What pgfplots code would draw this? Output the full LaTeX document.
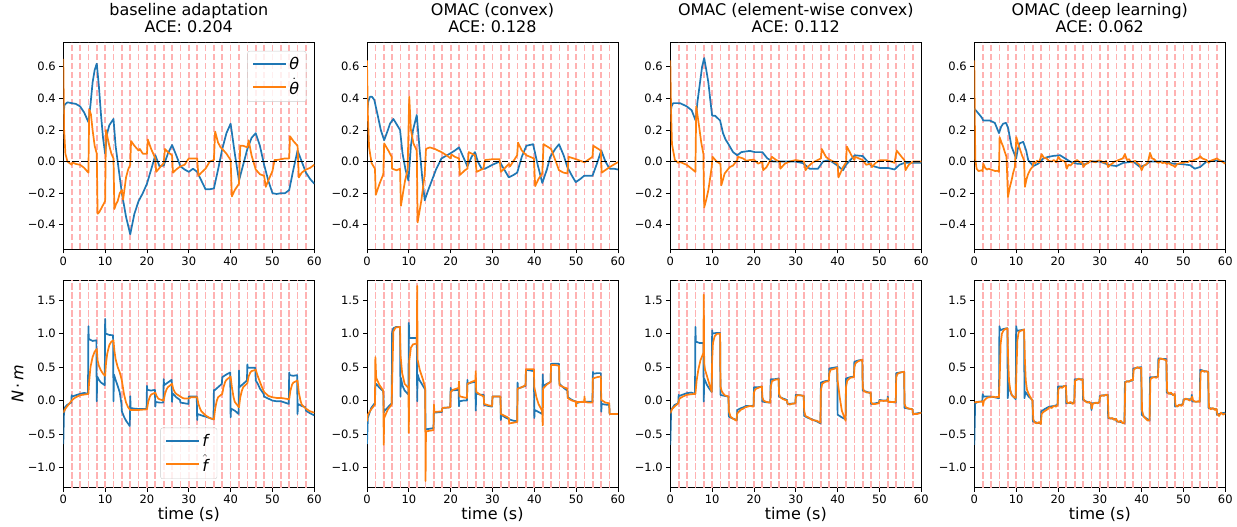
\documentclass[border=0pt]{standalone}
\usepackage{fontspec}
\setmainfont{DejaVu Sans}
\usepackage{pgfplots}
\pgfplotsset{compat=1.18}

\definecolor{mplblue}{HTML}{1F77B4}
\definecolor{mplorange}{HTML}{FF7F0E}

\pgfplotsset{
  panel/.style={
    scale only axis, width=251pt,
    xmin=0, xmax=60,
    xtick={0,10,...,60}, xticklabels={0,10,20,30,40,50,60},
    tick pos=left, tick align=outside,
    major tick length=4pt,
    tick style={black, line width=0.9pt},
    axis line style={line width=0.9pt},
    tick label style={font=\fontsize{11.5}{13}\selectfont},
    /pgf/number format/assume math mode=true,
    extra x ticks={2,4,...,58},
    extra x tick labels={},
    extra x tick style={grid=major, major tick length=0pt,
      major grid style={red!30, line width=1.7pt, dash pattern=on 6.3pt off 2.7pt}},
    every axis plot/.append style={line width=1.7pt, line join=round},
    title style={align=center, font=\fontsize{16}{17.5}\selectfont},
    xlabel style={font=\fontsize{16}{18}\selectfont, at={(axis description cs:0.5,-0.131)}, anchor=center},
    ylabel style={font=\fontsize{16}{18}\selectfont, at={(axis description cs:-0.182,0.5)}, anchor=center},
    legend style={draw=black!20, rounded corners=2pt, fill=white, fill opacity=0.8,
      text opacity=1, font=\fontsize{16}{18}\selectfont, inner xsep=5pt, inner ysep=4pt,
      row sep=3pt, cells={anchor=west}},
    legend image code/.code={\draw[#1, line width=1.7pt] (0pt,0pt) -- (33pt,0pt);},
  },
  toprow/.style={panel, height=207pt, ymin=-0.555, ymax=0.755,
    ytick={-0.4,-0.2,0,0.2,0.4,0.6}, yticklabels={−0.4,−0.2,0.0,0.2,0.4,0.6}},
  botrow/.style={panel, height=207.7pt, ymin=-1.3, ymax=1.8,
    ytick={-1,-0.5,0,0.5,1,1.5}, yticklabels={−1.0,−0.5,0.0,0.5,1.0,1.5},
    xlabel={time (s)}},
  zeroline/.style={black, line width=1.7pt, dash pattern=on 6.3pt off 2.7pt, forget plot},
}

\begin{document}
\begin{tikzpicture}
\useasboundingbox (0pt,0pt) rectangle (1237pt,527pt);

% ---------------- top row ----------------
\begin{axis}[toprow, at={(63.3pt,277.7pt)}, title={baseline adaptation\\ACE: 0.204},
  legend style={at={(1,1)}, anchor=north east, xshift=-8pt, yshift=-8.7pt}]
\addplot[mplblue] coordinates {
(0,0.30)(0.3,0.36)(1,0.375)(2,0.37)(3,0.365)(4,0.35)(5,0.31)(6,0.25)(6.5,0.36)(7,0.5)(7.5,0.58)(8,0.62)(8.5,0.48)(9,0.3)(9.5,0.15)(10,0.05)(10.5,0.18)(11,0.23)(12,0.27)(12.5,0.1)(13,0.0)(14,-0.2)(15,-0.35)(16,-0.46)(17,-0.33)(18,-0.25)(19,-0.2)(20,-0.14)(21,-0.05)(22,0.04)(23,-0.03)(24,-0.025)(25,0.05)(26,0.105)(27,0.04)(28,-0.03)(29,-0.05)(30,-0.065)(31,-0.045)(32,-0.065)(33,-0.12)(34,-0.175)(35,-0.175)(36,-0.17)(37,-0.05)(38,0.08)(39,0.18)(40,0.24)(41,0.05)(42,-0.12)(43,-0.02)(44,0.08)(45,0.15)(46,0.18)(47,0.1)(48,-0.02)(49,-0.12)(50,-0.2)(51,-0.205)(52,-0.2)(53,-0.2)(54,-0.18)(55,-0.05)(56,0.07)(57,0.0)(58,-0.07)(59,-0.11)(60,-0.14)};
\addlegendentry{\textit{θ}}
\addplot[mplorange] coordinates {
(0,0.65)(0.2,0.2)(0.5,0.05)(1,0.0)(1.5,-0.01)(2,-0.02)(2.2,-0.005)(3,-0.015)(4,-0.02)(5,-0.04)(6,-0.07)(6.2,0.33)(6.6,0.3)(7,0.2)(7.5,0.1)(8,0.05)(8.2,-0.33)(8.6,-0.32)(9,-0.3)(10,-0.25)(10.2,0.2)(10.6,0.15)(11,0.1)(11.5,0.05)(12,0.02)(12.2,-0.3)(12.6,-0.27)(13,-0.25)(13.5,-0.2)(14,-0.18)(14.3,-0.24)(15,-0.1)(15.5,-0.05)(16,-0.02)(16.2,0.13)(17,0.1)(18,0.07)(18.3,0.08)(19,0.05)(20,0.05)(20.2,0.14)(21,0.08)(22,0.02)(22.2,-0.065)(23,-0.04)(24,-0.01)(24.3,0.08)(25,0.06)(26,0.04)(26.2,-0.07)(27,-0.05)(28,-0.03)(29,-0.02)(30,0.02)(31,0.02)(32,0.02)(32.3,-0.09)(33,-0.07)(34,-0.045)(35,0.0)(36,0.01)(36.3,0.19)(37,0.12)(37.6,0.09)(38,0.08)(39,0.05)(40,0.01)(40.3,-0.22)(41,-0.18)(42,-0.14)(42.3,0.1)(43,0.1)(44,0.09)(44.3,0.135)(45,0.04)(46,-0.05)(47,-0.08)(48,-0.09)(48.4,-0.16)(49,-0.12)(50,-0.06)(50.5,0.01)(51,0.01)(52,0.015)(53,0.02)(54,0.02)(54.2,0.16)(55,0.13)(56,0.1)(56.3,-0.1)(57,-0.07)(58,-0.05)(59,-0.04)(60,-0.02)};
\addlegendentry{$\dot{\hbox{\itshape θ}}$}
\addplot[zeroline] coordinates {(0,0)(60,0)};
\end{axis}

\begin{axis}[toprow, at={(367pt,277.7pt)}, title={OMAC (convex)\\ACE: 0.128}]
\addplot[mplblue] coordinates {
(0,0.3)(0.3,0.38)(0.7,0.41)(1.2,0.41)(1.75,0.39)(2.5,0.3)(3.3,0.2)(4.1,0.135)(5,0.2)(5.5,0.24)(6.3,0.27)(7,0.24)(7.9,0.2)(8.5,0.05)(9.2,-0.05)(9.9,-0.12)(10.5,0.1)(11,0.2)(11.9,0.295)(12.5,0.1)(13.2,-0.1)(13.8,-0.245)(14.5,-0.19)(15.5,-0.12)(16.5,-0.05)(17.8,0.02)(18.8,0.035)(19.8,0.05)(21,0.07)(22,0.09)(23,0.03)(24,-0.03)(25,0.03)(25.8,0.06)(26.5,0.0)(27.4,-0.045)(28.2,-0.045)(30,-0.02)(31.7,0.0)(32.8,-0.05)(33.9,-0.1)(35,-0.085)(35.9,-0.07)(37,0.03)(38.1,0.1)(39.7,0.11)(40.8,-0.02)(41.9,-0.135)(43,-0.05)(43.8,0.03)(45,0.08)(45.9,0.11)(47,0.04)(47.9,-0.035)(49,-0.09)(49.9,-0.13)(51,-0.11)(51.9,-0.09)(53,-0.09)(53.9,-0.09)(55,-0.01)(56,0.07)(57,0.0)(58,-0.045)(59,-0.045)(60,-0.05)};
\addplot[mplorange] coordinates {
(0,0.64)(0.2,0.3)(0.5,0.09)(1.1,-0.01)(1.9,-0.045)(2.1,-0.21)(3,-0.14)(3.9,-0.08)(4.1,0.115)(5.1,0.07)(5.9,0.03)(6.0,-0.045)(7.1,-0.055)(7.9,-0.045)(8.1,-0.28)(9.1,-0.12)(9.7,-0.055)(10.1,0.41)(10.5,0.2)(11.1,0.115)(11.9,0.07)(12.1,-0.385)(13,-0.245)(13.8,-0.08)(14.1,0.08)(15,0.09)(16.2,0.08)(17.8,0.06)(19,0.04)(20,0.02)(20.2,0.045)(21,0.03)(22,0.02)(22.2,-0.085)(23.4,-0.055)(24,-0.045)(24.3,0.06)(25.8,0.04)(26.2,-0.065)(27.8,-0.045)(28.2,0.01)(30,0.015)(31.7,0.015)(32,-0.065)(33,-0.04)(33.9,-0.015)(34.2,-0.03)(35.9,0.04)(36.1,0.12)(37,0.07)(38.1,0.04)(39.9,0.02)(40.2,-0.155)(41,-0.11)(41.9,-0.075)(42.2,0.11)(44,0.08)(45,0.01)(45.9,-0.055)(47,-0.07)(47.9,-0.075)(48.2,0.03)(50,0.015)(52,-0.005)(53.9,0.03)(54.1,0.1)(55.9,0.07)(56.1,-0.07)(58,-0.035)(60,-0.003)};
\addplot[zeroline] coordinates {(0,0)(60,0)};
\end{axis}

\begin{axis}[toprow, at={(670.3pt,277.7pt)}, title={OMAC (element-wise convex)\\ACE: 0.112}]
\addplot[mplblue] coordinates {
(0,0.3)(0.3,0.35)(0.7,0.37)(2.3,0.37)(3.9,0.35)(5.1,0.325)(6.05,0.26)(6.5,0.38)(7.1,0.5)(7.6,0.6)(8.1,0.655)(8.6,0.58)(9.1,0.5)(9.6,0.38)(10,0.29)(10.7,0.29)(11.9,0.26)(12.6,0.18)(13.2,0.14)(13.8,0.115)(15,0.06)(16,0.04)(17,0.06)(19,0.068)(20.2,0.06)(22,0.06)(23.2,0.02)(24.6,0.0)(27.8,0.0)(30,0.0)(31.7,-0.01)(33.3,-0.045)(35.3,-0.045)(36.5,0.0)(38,0.01)(39.7,-0.02)(41.3,-0.055)(42,-0.02)(44.1,0.04)(46,0.035)(48,-0.025)(50,-0.04)(52,-0.04)(53.6,-0.05)(54.8,-0.02)(56,-0.008)(60,-0.008)};
\addplot[mplorange] coordinates {
(0,0.64)(0.2,0.3)(0.4,0.11)(1.1,0.01)(1.9,-0.008)(2.1,0.0)(3,-0.01)(3.9,-0.02)(5.1,-0.045)(6,-0.065)(6.2,0.35)(6.9,0.22)(7.4,0.12)(7.9,0.05)(8.1,-0.29)(8.6,-0.24)(9.1,-0.18)(9.9,-0.035)(10.1,0.03)(11.1,0.0)(12,-0.015)(12.2,-0.15)(13,-0.075)(14.2,-0.035)(15,-0.025)(16,0.01)(16.2,0.03)(17.4,0.02)(18.2,0.005)(19,0.01)(20,0.012)(21,-0.013)(22,0.0)(22.2,-0.055)(23,-0.035)(24,0.013)(24.3,0.03)(25.3,0.01)(26.2,0.0)(26.3,-0.045)(27.4,-0.013)(28.5,0.0)(30,0.01)(32,0.0)(32.3,-0.055)(33,-0.03)(34,-0.006)(36,0.02)(36.2,0.08)(37.2,0.03)(38,0.013)(40,-0.013)(40.2,-0.1)(41.3,-0.035)(42,-0.006)(42.2,0.095)(43.3,0.04)(44,0.01)(44.2,0.03)(46,0.01)(46.8,-0.02)(48,-0.013)(48.2,-0.035)(49,-0.01)(50,0.008)(52,0.008)(53.6,-0.008)(54.1,0.07)(55.3,0.03)(56,0.008)(56.2,-0.055)(57,-0.02)(58,0.0)(60,0.0)};
\addplot[zeroline] coordinates {(0,0)(60,0)};
\end{axis}

\begin{axis}[toprow, at={(974.3pt,277.7pt)}, title={OMAC (deep learning)\\ACE: 0.062}]
\addplot[mplblue] coordinates {
(0,0.335)(0.5,0.32)(1.75,0.28)(2.15,0.26)(3.7,0.26)(4.9,0.245)(5.9,0.18)(6.4,0.22)(6.9,0.24)(7.6,0.245)(8.1,0.21)(8.9,0.095)(10,0.02)(10.4,0.08)(10.8,0.115)(11.7,0.125)(12.4,0.07)(12.9,0.008)(14.1,-0.028)(15.3,-0.013)(16.5,0.02)(17.7,0.03)(18.9,0.036)(20.5,0.04)(21.7,0.02)(22.9,0.0)(24.5,-0.013)(26.5,-0.017)(27.6,0.0)(30,0.0)(32.4,-0.023)(34,-0.028)(35.6,-0.008)(38,0.0)(39.6,-0.034)(40.8,-0.023)(42,0.0)(45,0.0)(47.6,-0.013)(50,-0.017)(51.6,-0.023)(52.7,-0.045)(54,-0.034)(55.5,0.0)(57.9,0.006)(60,0.0)};
\addplot[mplorange] coordinates {
(0,0.64)(0.15,0.2)(0.25,0.01)(0.55,-0.045)(1,-0.06)(1.75,-0.055)(2.0,-0.06)(2.15,-0.013)(2.6,-0.04)(3,-0.05)(3.5,-0.045)(3.9,-0.05)(4.5,-0.055)(5,-0.06)(5.5,-0.058)(5.9,-0.065)(6.05,0.155)(6.5,0.12)(6.9,0.095)(7.3,0.06)(7.7,0.03)(8.05,-0.225)(8.5,-0.16)(8.9,-0.12)(9.3,-0.07)(9.7,-0.034)(10.05,0.155)(10.5,0.11)(10.9,0.08)(11.4,0.04)(11.9,0.008)(12.1,-0.16)(12.5,-0.11)(12.9,-0.076)(13.4,-0.05)(13.9,-0.034)(14.2,0.0)(14.6,-0.01)(15,0.005)(15.5,-0.005)(16.1,0.047)(16.6,0.025)(17.3,0.02)(17.8,0.005)(18.5,0.0)(19,0.01)(19.6,-0.005)(20.1,0.03)(20.6,0.01)(21.2,0.005)(21.7,0.0)(22.1,-0.045)(22.5,-0.02)(23,-0.025)(23.5,-0.01)(24.1,0.004)(24.6,0.01)(25.2,-0.005)(25.7,0.0)(26.1,-0.034)(26.6,-0.015)(27.2,-0.01)(27.7,0.005)(28.4,0.0)(29,-0.005)(29.5,0.005)(30,0.008)(30.5,0.0)(31,-0.008)(31.5,0.004)(32,-0.034)(32.5,-0.02)(33,-0.012)(33.5,0.0)(34,0.004)(34.5,0.01)(35,0.015)(35.5,0.02)(36,0.047)(36.5,0.01)(37,0.015)(37.5,-0.005)(38,0.0)(38.5,0.005)(39,-0.01)(39.5,-0.02)(40,-0.055)(40.5,-0.025)(41,-0.02)(41.5,-0.005)(42,0.055)(42.5,0.02)(43,0.015)(43.5,0.0)(44,-0.008)(44.5,0.0)(45,-0.01)(45.5,-0.005)(46,-0.015)(46.5,-0.01)(47,-0.02)(47.5,-0.025)(48,-0.034)(48.5,-0.015)(49,-0.012)(49.5,-0.008)(50,-0.008)(50.5,0.0)(51,-0.005)(51.5,0.005)(52,0.004)(52.5,0.01)(53,0.015)(53.5,0.02)(54,0.034)(54.5,0.02)(55,0.015)(55.5,0.01)(56,-0.008)(56.5,0.005)(57,0.01)(57.5,0.015)(58,0.02)(58.5,0.01)(59,0.005)(59.5,-0.005)(60,-0.013)};
\addplot[zeroline] coordinates {(0,0)(60,0)};
\end{axis}

% ---------------- bottom row ----------------
\begin{axis}[botrow, at={(63.3pt,39.3pt)}, ylabel={\textit{N}\,⋅\,\textit{m}},
  legend style={at={(0.5,0)}, anchor=south, yshift=8.7pt}]
\addplot[mplblue] coordinates {
(0,-0.65)(0.15,-0.2)(0.4,-0.1)(1,-0.06)(1.9,-0.03)(2,0.08)(2.1,0.06)(3,0.08)(4,0.1)(5,0.115)(5.9,0.1)(6,1.11)(6.1,0.92)(7,0.89)(7.9,0.9)(8,-0.01)(8.1,0.36)(8.5,0.31)(9,0.27)(9.9,0.23)(10,1.22)(10.1,1.0)(11,0.98)(11.9,0.975)(12,-0.01)(12.1,0.39)(12.5,0.31)(13,0.22)(13.5,0.12)(13.9,-0.05)(14,-0.16)(14.5,-0.24)(15,-0.3)(15.9,-0.38)(16,0.065)(16.1,-0.11)(17,-0.12)(18,-0.125)(19,-0.125)(19.9,-0.125)(20,0.22)(20.1,0.16)(21,0.15)(21.9,0.16)(22,-0.09)(22.1,-0.02)(23,-0.03)(23.9,-0.03)(24,0.32)(24.1,0.23)(25,0.27)(25.9,0.31)(26,-0.02)(26.1,0.11)(27,0.05)(27.9,0.01)(28,-0.03)(29,-0.04)(29.9,-0.05)(30,0.06)(31,0.06)(31.9,0.06)(32,-0.29)(32.1,-0.2)(33,-0.22)(34,-0.24)(35,-0.26)(35.9,-0.28)(36,0.16)(36.1,0.15)(37,0.2)(37.9,0.25)(38,0.35)(39,0.39)(39.9,0.42)(40,-0.25)(40.1,-0.12)(41,-0.15)(41.9,-0.2)(42,0.45)(42.1,0.2)(43,0.25)(43.9,0.3)(44,0.54)(44.1,0.49)(45,0.49)(45.9,0.49)(46,0.3)(46.5,0.25)(47,0.18)(47.9,0.1)(48,0.06)(49,0.03)(50,0.0)(51,-0.01)(52,-0.01)(53,-0.03)(53.9,-0.05)(54,0.42)(54.1,0.38)(55,0.37)(55.9,0.38)(56,-0.2)(56.1,-0.05)(57,-0.08)(57.9,-0.1)(58,-0.15)(59,-0.19)(60,-0.22)};
\addlegendentry{\textit{f}}
\addplot[mplorange] coordinates {
(0,-0.18)(0.5,-0.12)(1,-0.08)(1.5,-0.04)(2,0.0)(2.5,0.03)(3,0.05)(4,0.08)(5,0.09)(6,0.1)(6.2,0.3)(6.5,0.5)(7,0.65)(7.5,0.73)(8,0.77)(8.2,0.6)(8.5,0.52)(9,0.45)(9.5,0.4)(10,0.37)(10.2,0.55)(10.5,0.7)(11,0.83)(11.5,0.88)(12,0.9)(12.2,0.75)(12.5,0.62)(13,0.5)(13.5,0.42)(14,0.3)(14.5,0.1)(15,-0.03)(15.5,-0.1)(16,-0.14)(17,-0.14)(18,-0.14)(19,-0.135)(20,-0.13)(20.3,-0.02)(20.7,0.06)(21,0.09)(22,0.12)(22.3,0.07)(22.7,0.03)(23,0.02)(24,0.0)(24.3,0.1)(24.7,0.17)(25,0.2)(26,0.25)(26.3,0.17)(26.7,0.12)(27,0.1)(28,0.06)(28.5,0.04)(29,0.03)(30,0.03)(30.5,0.05)(31,0.05)(32,0.05)(32.3,-0.05)(32.7,-0.12)(33,-0.16)(34,-0.22)(35,-0.26)(36,-0.28)(36.3,-0.12)(36.7,0.0)(37,0.05)(38,0.1)(38.3,0.2)(38.7,0.28)(39,0.31)(40,0.36)(40.3,0.2)(40.7,0.05)(41,-0.02)(42,-0.1)(42.3,0.05)(42.7,0.15)(43,0.2)(44,0.26)(44.3,0.36)(44.7,0.42)(45,0.44)(46,0.46)(46.3,0.4)(46.7,0.33)(47,0.28)(47.5,0.2)(48,0.13)(49,0.07)(50,0.05)(51,0.04)(52,0.04)(53,0.03)(54,0.02)(54.3,0.15)(54.7,0.24)(55,0.27)(56,0.3)(56.3,0.12)(56.7,0.0)(57,-0.06)(58,-0.12)(59,-0.16)(60,-0.18)};
\addlegendentry{$\hat{\hbox{\itshape f}}$}
\end{axis}

\begin{axis}[botrow, at={(367pt,39.3pt)}]
\addplot[mplblue] coordinates {
(0,-0.65)(0.2,-0.26)(1,-0.11)(1.9,-0.035)(2,0.21)(2.2,0.25)(3,0.19)(3.9,0.14)(4,-0.18)(4.1,-0.16)(5,-0.1)(5.9,-0.04)(6,1.02)(6.3,1.08)(7,1.1)(7.9,1.1)(8,0.06)(8.1,0.34)(8.5,0.22)(9,0.15)(9.9,0.09)(10,1.16)(10.1,0.935)(11,0.935)(11.9,0.935)(12,-0.01)(12.1,0.39)(12.5,0.31)(13,0.26)(13.9,0.165)(14,-0.43)(15,-0.42)(15.9,-0.41)(16,-0.135)(16.1,-0.18)(17,-0.175)(17.9,-0.17)(18,-0.11)(19,-0.105)(19.9,-0.1)(20,0.19)(20.1,0.15)(21,0.155)(21.9,0.16)(22,-0.085)(22.1,-0.01)(23,0.0)(23.9,0.0)(24,0.31)(24.1,0.25)(25,0.27)(25.9,0.28)(26,-0.15)(26.1,0.11)(27,0.09)(27.9,0.085)(28,-0.065)(29,-0.08)(29.9,-0.09)(30,0.06)(31,0.06)(31.9,0.06)(32,-0.29)(32.1,-0.21)(33,-0.25)(34,-0.28)(35,-0.3)(35.9,-0.31)(36,0.27)(36.1,0.18)(37,0.2)(37.9,0.22)(38,0.46)(39,0.45)(39.9,0.44)(40,-0.26)(40.1,-0.14)(41,-0.17)(41.9,-0.2)(42,0.39)(42.1,0.22)(43,0.25)(43.9,0.28)(44,0.55)(45,0.55)(45.9,0.55)(46,0.25)(47,0.19)(47.9,0.15)(48,0.05)(49,0.01)(49.9,-0.015)(50,-0.04)(51,-0.02)(51.9,-0.015)(52,-0.015)(53,-0.015)(53.9,-0.015)(54,0.43)(54.1,0.4)(55,0.41)(55.9,0.41)(56,-0.165)(56.1,-0.05)(57,-0.06)(57.9,-0.065)(58,-0.2)(59,-0.2)(60,-0.2)};
\addplot[mplorange] coordinates {
(0,-0.31)(0.2,-0.21)(1,-0.13)(1.9,-0.06)(2,0.65)(2.2,0.34)(3,0.23)(3.9,0.15)(4,-0.66)(4.1,-0.26)(5,-0.13)(5.9,-0.06)(6,0.24)(6.3,1.03)(6.8,1.09)(7.9,1.1)(8,0.69)(8.4,0.41)(9,0.25)(9.9,0.19)(10,-0.48)(10.1,0.59)(10.5,0.79)(11,0.84)(11.9,0.85)(12,1.71)(12.1,0.61)(12.6,0.46)(13.4,0.31)(13.9,0.19)(14,-1.2)(14.1,-0.46)(15,-0.45)(15.9,-0.44)(16,-0.06)(16.1,-0.17)(17,-0.165)(17.9,-0.16)(18,-0.11)(19,-0.105)(19.9,-0.1)(20,0.13)(20.5,0.16)(21.9,0.19)(22,0.29)(22.1,0.065)(23,0.05)(23.9,0.04)(24,0.25)(25,0.28)(25.9,0.3)(26,0.44)(26.1,0.13)(27,0.09)(27.9,0.06)(28,-0.05)(29,-0.07)(29.9,-0.08)(30,0.06)(31,0.06)(31.9,0.06)(32,-0.2)(33,-0.23)(33.9,-0.26)(34,-0.34)(35,-0.33)(35.9,-0.32)(36,0.18)(37,0.2)(37.9,0.23)(38,0.47)(39,0.47)(39.9,0.47)(40,0.2)(40.5,0.05)(41,-0.05)(41.9,-0.16)(42,-0.37)(42.1,0.18)(43,0.24)(43.9,0.28)(44,0.53)(45,0.53)(45.9,0.52)(46,0.23)(47,0.2)(47.9,0.18)(48,0.035)(49,0.0)(49.9,-0.015)(50,-0.09)(50.1,-0.02)(51,-0.02)(51.9,-0.02)(52,0.06)(52.1,-0.02)(53,-0.03)(53.9,-0.03)(54,0.33)(55,0.35)(55.9,0.36)(56,0.01)(57,-0.03)(57.9,-0.04)(58,-0.2)(59,-0.2)(60,-0.2)};
\end{axis}

\begin{axis}[botrow, at={(670.3pt,39.3pt)}]
\addplot[mplblue] coordinates {
(0,-0.66)(0.2,-0.14)(1,-0.065)(1.9,-0.04)(2,0.085)(2.2,0.07)(3,0.09)(3.9,0.11)(5,0.12)(5.9,0.1)(6,1.1)(6.1,0.88)(7,0.86)(7.9,0.86)(8,-0.015)(8.1,0.33)(8.7,0.24)(9.3,0.18)(9.9,0.13)(10,1.05)(10.1,1.0)(11,1.01)(11.9,1.01)(12,0.085)(13,0.07)(13.9,0.06)(14,-0.24)(15,-0.27)(15.9,-0.29)(16,-0.14)(17,-0.11)(17.9,-0.09)(18,-0.08)(19,-0.08)(19.9,-0.08)(20,0.2)(21,0.2)(21.9,0.21)(22,-0.015)(23,-0.025)(23.9,-0.03)(24,0.32)(25,0.32)(25.9,0.33)(26,0.06)(27,0.03)(27.9,0.01)(28,-0.05)(29,-0.045)(29.9,-0.04)(30,0.085)(31,0.08)(31.9,0.07)(32,-0.23)(33,-0.26)(33.9,-0.28)(35,-0.31)(35.9,-0.34)(36,0.27)(37,0.29)(37.9,0.3)(38,0.48)(39,0.49)(39.9,0.5)(40,-0.21)(41,-0.25)(41.9,-0.28)(42,0.33)(43,0.35)(43.9,0.36)(44,0.58)(45,0.6)(45.9,0.61)(46,0.15)(47,0.13)(47.9,0.11)(48,-0.05)(49,-0.04)(49.9,-0.03)(50,0.01)(51,0.0)(51.9,0.0)(52,0.06)(52.1,-0.015)(53,-0.02)(53.9,-0.03)(54,0.41)(55,0.42)(55.9,0.43)(56,-0.11)(57,-0.12)(57.9,-0.13)(58,-0.2)(59,-0.19)(60,-0.18)};
\addplot[mplorange] coordinates {
(0,-0.19)(0.5,-0.12)(1,-0.09)(1.9,-0.04)(2.2,0.03)(3,0.06)(3.9,0.085)(5,0.095)(6,0.1)(6.3,0.3)(6.7,0.46)(7.2,0.6)(7.9,0.71)(8,1.58)(8.1,0.56)(8.3,0.46)(8.7,0.38)(9.5,0.21)(9.9,0.13)(10,0.6)(10.2,0.86)(10.6,0.96)(11.1,0.995)(11.9,1.0)(12,0.21)(12.3,0.14)(12.6,0.11)(13,0.08)(13.9,0.06)(14,-0.16)(14.4,-0.24)(15,-0.27)(15.8,-0.3)(16,-0.19)(16.5,-0.16)(17,-0.13)(17.5,-0.12)(17.9,-0.1)(18.5,-0.09)(19,-0.08)(19.9,-0.09)(20,0.12)(20.3,0.17)(21,0.19)(21.9,0.21)(22,0.05)(22.3,0.0)(23,-0.02)(23.9,-0.03)(24,0.2)(24.3,0.29)(25,0.31)(25.9,0.32)(26,0.1)(26.3,0.05)(27,0.02)(27.9,0.0)(28,-0.04)(28.5,-0.06)(29,-0.05)(29.9,-0.04)(30,0.05)(30.3,0.08)(31,0.08)(31.9,0.07)(32,-0.15)(32.3,-0.23)(33,-0.25)(33.9,-0.29)(35,-0.3)(35.9,-0.33)(36,0.15)(36.3,0.25)(37,0.28)(37.9,0.29)(38,0.4)(38.3,0.46)(39,0.47)(39.9,0.49)(40,0.3)(40.5,0.05)(41,-0.15)(41.9,-0.3)(42,0.2)(42.3,0.3)(43,0.34)(43.9,0.35)(44,0.5)(44.3,0.56)(45,0.59)(45.9,0.61)(46,0.2)(46.3,0.14)(47,0.12)(47.9,0.12)(48,-0.02)(48.3,-0.05)(49,-0.05)(49.9,-0.04)(50,0.0)(51,-0.005)(51.9,0.0)(52,0.04)(52.1,-0.02)(53,-0.02)(53.9,-0.02)(54,0.35)(54.3,0.4)(55,0.42)(55.9,0.43)(56,-0.05)(56.3,-0.1)(57,-0.12)(57.9,-0.13)(58,-0.2)(59,-0.2)(60,-0.18)};
\end{axis}

\begin{axis}[botrow, at={(974.3pt,39.3pt)}]
\addplot[mplblue] coordinates {
(0,-0.66)(0.2,-0.04)(1,-0.015)(1.9,-0.015)(2,0.095)(2.2,0.06)(3,0.06)(3.9,0.06)(4.9,0.05)(5.9,0.035)(6,1.11)(6.2,1.05)(7,1.07)(7.9,1.08)(8,0.035)(8.2,0.26)(8.5,0.17)(8.9,0.085)(9.9,0.02)(10,1.11)(10.2,1.04)(11,1.05)(11.9,1.06)(12,0.035)(12.2,0.13)(13,0.06)(13.9,0.01)(14,-0.31)(15,-0.33)(15.9,-0.34)(16,-0.16)(17,-0.12)(17.9,-0.09)(18,-0.09)(19,-0.08)(19.9,-0.065)(20,0.21)(21,0.21)(21.9,0.22)(22,-0.04)(23,-0.035)(23.9,-0.03)(24,0.32)(25,0.32)(25.9,0.32)(26,0.01)(27,-0.02)(27.9,-0.04)(28,-0.14)(28.1,-0.04)(29,-0.035)(29.9,-0.03)(30,0.07)(31,0.08)(31.9,0.085)(32,-0.26)(33,-0.27)(33.9,-0.28)(34,-0.31)(35,-0.32)(35.9,-0.34)(36,0.28)(37,0.29)(37.9,0.3)(38,0.48)(39,0.49)(39.9,0.5)(40,-0.21)(41,-0.26)(41.9,-0.3)(42,0.35)(43,0.35)(43.9,0.36)(44,0.63)(45,0.62)(45.9,0.62)(46,0.12)(47,0.1)(47.9,0.085)(48,-0.09)(49,-0.07)(49.9,-0.05)(50,0.02)(51,0.02)(51.9,0.02)(52,0.085)(52.1,-0.015)(53,-0.015)(53.9,-0.015)(54,0.46)(55,0.44)(55.9,0.43)(56,-0.11)(57,-0.12)(57.9,-0.13)(58,-0.21)(59,-0.19)(60,-0.18)};
\addplot[mplorange] coordinates {
(0,-0.03)(0.5,-0.02)(1,-0.02)(1.5,-0.015)(2,-0.01)(2.1,-0.07)(2.3,0.0)(3,0.04)(3.5,0.05)(4,0.05)(4.5,0.06)(5,0.05)(5.5,0.055)(5.9,0.05)(6.1,0.4)(6.3,0.85)(6.6,1.0)(7,1.05)(7.5,1.07)(7.9,1.08)(8.1,0.6)(8.3,0.3)(8.6,0.15)(9,0.08)(9.5,0.05)(9.9,0.04)(10.1,0.5)(10.3,0.9)(10.6,1.02)(11,1.04)(11.5,1.05)(11.9,1.06)(12.1,0.6)(12.3,0.3)(12.6,0.16)(13,0.1)(13.5,0.04)(13.9,0.0)(14.1,-0.28)(14.5,-0.33)(15,-0.34)(15.5,-0.32)(15.9,-0.35)(16.1,-0.2)(16.5,-0.17)(17,-0.15)(17.5,-0.13)(18,-0.1)(18.5,-0.11)(19,-0.08)(19.5,-0.09)(19.9,-0.07)(20.1,0.17)(20.5,0.2)(21,0.19)(21.5,0.22)(21.9,0.21)(22.1,-0.02)(22.5,-0.04)(23,-0.02)(23.5,-0.05)(23.9,-0.03)(24.1,0.3)(24.5,0.31)(25,0.33)(25.5,0.31)(25.9,0.32)(26.1,0.02)(26.5,-0.01)(27,-0.03)(27.5,-0.02)(27.9,-0.04)(28.1,-0.12)(28.3,-0.05)(29,-0.03)(29.5,-0.04)(29.9,-0.02)(30.1,0.06)(30.5,0.08)(31,0.07)(31.5,0.09)(31.9,0.08)(32.1,-0.25)(32.5,-0.27)(33,-0.26)(33.5,-0.29)(33.9,-0.27)(34.1,-0.3)(34.5,-0.32)(35,-0.3)(35.5,-0.34)(35.9,-0.33)(36.1,0.27)(36.5,0.29)(37,0.28)(37.5,0.31)(37.9,0.3)(38.1,0.46)(38.5,0.48)(39,0.5)(39.5,0.48)(39.9,0.49)(40.1,-0.15)(40.5,-0.24)(41,-0.27)(41.5,-0.3)(41.9,-0.29)(42.1,0.32)(42.5,0.34)(43,0.35)(43.5,0.34)(43.9,0.36)(44.1,0.6)(44.5,0.63)(45,0.62)(45.5,0.61)(45.9,0.6)(46.1,0.14)(46.5,0.1)(47,0.12)(47.5,0.08)(47.9,0.1)(48.1,-0.07)(48.5,-0.09)(49,-0.06)(49.5,-0.08)(49.9,-0.05)(50.1,0.01)(50.5,0.03)(51,0.02)(51.5,0.0)(51.9,0.03)(52.1,0.06)(52.3,0.0)(53,-0.02)(53.5,-0.01)(53.9,-0.02)(54.1,0.42)(54.5,0.45)(55,0.43)(55.5,0.44)(55.9,0.42)(56.1,-0.1)(56.5,-0.13)(57,-0.11)(57.5,-0.14)(57.9,-0.12)(58.1,-0.2)(58.5,-0.23)(59,-0.18)(59.5,-0.21)(60,-0.19)};
\end{axis}
\end{tikzpicture}
\end{document}
